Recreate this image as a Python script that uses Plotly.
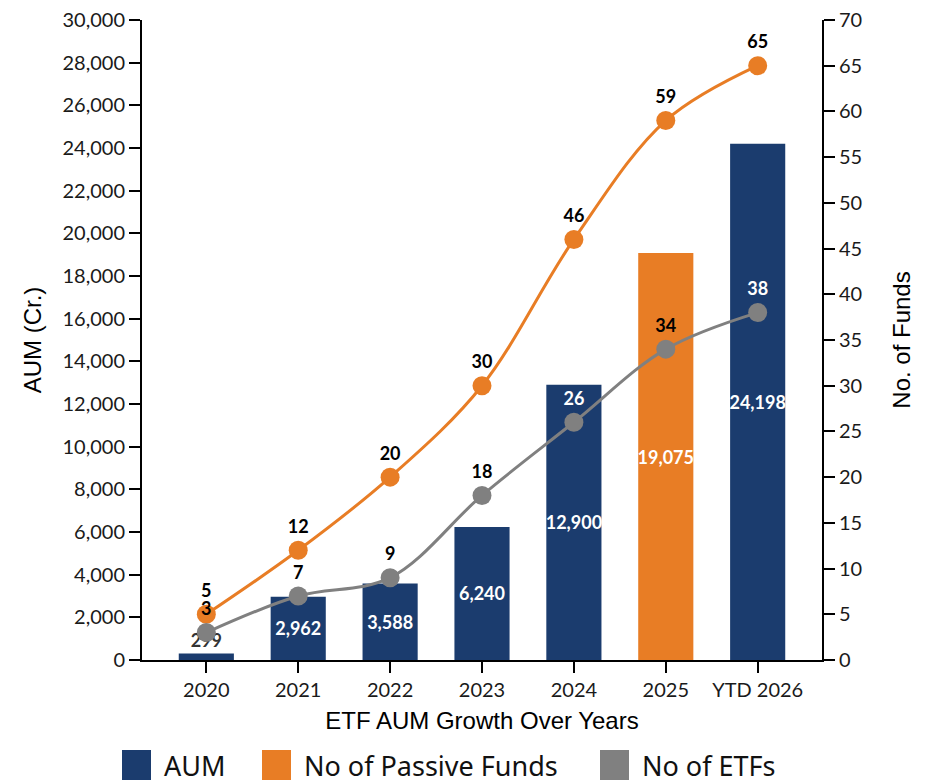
import plotly.graph_objects as go

# data
years = ["2020", "2021", "2022", "2023", "2024", "2025", "YTD 2026"]
aum = [299, 2962, 3588, 6240, 12900, 19075, 24198]
passive_funds = [5, 12, 20, 30, 46, 59, 65]
etfs = [3, 7, 9, 18, 26, 34, 38]

legend_names = ["AUM", "No of Passive Funds", "No of ETFs"]

NAVY = "#1b3c6e"
ORANGE = "#e87d25"
GREY = "#808080"

# 2025 bar is highlighted orange in the original
bar_colors = [ORANGE if y == "2025" else NAVY for y in years]
bar_text = [f"{v:,}" for v in aum]
bar_textpos = ["outside" if v < 1000 else "inside" for v in aum]
bar_textcolor = ["#333333" if v < 1000 else "white" for v in aum]

# ETF labels that sit inside a navy bar are white
etf_textcolor = ["black", "black", "black", "black", "white", "black", "white"]

label_font = "Lato"
title_font = "Liberation Sans, Arial, sans-serif"

# the page body has an 8px margin, so the figure is drawn 8px in from the corner
PAGE_OFF = 8
plot_l, plot_t, plot_w, plot_h = 142, 20, 680, 640
fig_w, fig_h = 946 - PAGE_OFF, 784 - PAGE_OFF

fig = go.Figure()

fig.add_trace(go.Bar(
    x=years, y=aum, name="AUM",
    marker=dict(color=bar_colors, line=dict(width=0)),
    width=0.6,
    text=bar_text, textposition=bar_textpos, textangle=0,
    insidetextanchor="middle", constraintext="none",
    textfont=dict(family=label_font, size=18, color=bar_textcolor, weight="bold"),
    cliponaxis=False,
    showlegend=False,
))

fig.add_trace(go.Scatter(
    x=years, y=passive_funds, yaxis="y2", name="No of Passive Funds",
    mode="lines+markers+text",
    line=dict(color=ORANGE, width=3, shape="spline"),
    marker=dict(color=ORANGE, size=19),
    text=[str(v) for v in passive_funds], textposition="top center",
    textfont=dict(family=label_font, size=18, color="black", weight="bold"),
    cliponaxis=False,
    showlegend=False,
))

fig.add_trace(go.Scatter(
    x=years, y=etfs, yaxis="y2", name="No of ETFs",
    mode="lines+markers+text",
    line=dict(color=GREY, width=3, shape="spline"),
    marker=dict(color=GREY, size=19),
    text=[str(v) for v in etfs], textposition="top center",
    textfont=dict(family=label_font, size=18, color=etf_textcolor, weight="bold"),
    cliponaxis=False,
    showlegend=False,
))

axis_style = dict(
    showline=True, linecolor="black", linewidth=2,
    ticks="outside", ticklen=11, tickwidth=2, tickcolor="black",
    showgrid=False, zeroline=False,
    automargin=False, ticklabeloverflow="allow",
    tickfont=dict(family=label_font, size=20, color="#1a1a1a"),
)

ml = plot_l - PAGE_OFF
mt = plot_t - PAGE_OFF
fig.update_layout(
    width=fig_w, height=fig_h,
    margin=dict(l=ml, r=fig_w - ml - plot_w, t=mt, b=fig_h - mt - plot_h),
    paper_bgcolor="white", plot_bgcolor="white",
    barmode="overlay",
    xaxis=dict(
        **axis_style,
        range=[-0.7, 6.7],
        title=dict(text="ETF AUM Growth Over Years", standoff=12,
                   font=dict(family=title_font, size=24, color="black")),
    ),
    yaxis=dict(
        **axis_style,
        range=[0, 30000], dtick=2000, tickformat=",",
        title=dict(text="AUM (Cr.)", standoff=14,
                   font=dict(family=title_font, size=24, color="black")),
    ),
    yaxis2=dict(
        **axis_style,
        overlaying="y", side="right",
        range=[0, 70], dtick=5,
        title=dict(text="No. of Funds", standoff=32,
                   font=dict(family=title_font, size=24, color="black")),
    ),
)

# legend drawn under the x title: big square swatches like the original
legend_colors = [NAVY, ORANGE, GREY]
legend_px = [122, 262, 600]  # left edge of each swatch, page pixels
plot_b = plot_t + plot_h
for name, col, px in zip(legend_names, legend_colors, legend_px):
    fig.add_shape(type="rect", xref="paper", yref="paper",
                  x0=(px - plot_l) / plot_w, x1=(px + 29 - plot_l) / plot_w,
                  y0=(plot_b - 750) / plot_h, y1=(plot_b - 780) / plot_h,
                  fillcolor=col, line=dict(width=0))
    fig.add_annotation(xref="paper", yref="paper",
                       x=(px + 40 - plot_l) / plot_w, y=(plot_b - 765) / plot_h,
                       xanchor="left", yanchor="middle", showarrow=False,
                       text=name,
                       font=dict(family="Noto Sans", size=27, color="#111111"))

fig.write_html("out.html")
